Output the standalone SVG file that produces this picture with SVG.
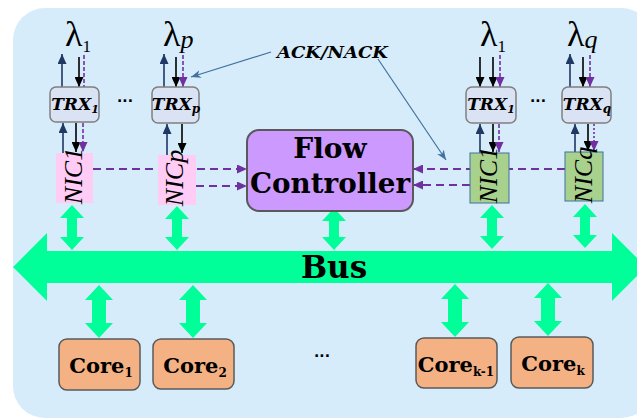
<svg xmlns="http://www.w3.org/2000/svg" width="637" height="419" viewBox="0 0 637 419">
<defs>
<style>
.bg{fill:#d6ecfb}
.trx rect{fill:#dae3f3;stroke:#7f7f7f;stroke-width:1.5}
.trx text{font-family:"DejaVu Serif",serif;font-weight:bold;font-style:italic;font-size:17px;text-anchor:middle}
.nicp rect{fill:#ffccf6}
.nicg rect{fill:#a9d18e;stroke:#41719c;stroke-width:1}
.nic text{font-family:"Liberation Serif",serif;font-style:italic;font-size:26px;text-anchor:middle}
.core rect{fill:#f4b183;stroke:#595959;stroke-width:1.5}
.core text{font-family:"DejaVu Serif",serif;font-weight:bold;font-size:21px;text-anchor:middle}
.lam{font-family:"Liberation Serif",serif;font-size:36px}
.dots{font-family:"DejaVu Sans",sans-serif;font-weight:bold;font-size:14px;text-anchor:middle}
.g{fill:#00ff99}
.k{stroke:#000;stroke-width:1.6;fill:none;marker-end:url(#mk)}
.n{stroke:#1f3864;stroke-width:1.6;fill:none;marker-end:url(#mn)}
.pv{stroke:#7030a0;stroke-width:1.6;fill:none;stroke-dasharray:4 2}
.ph{stroke:#7030a0;stroke-width:2;fill:none;stroke-dasharray:8 5}
.pa{marker-end:url(#mp)}
.bl{stroke:#41719c;stroke-width:1.2;fill:none;marker-end:url(#mb)}
</style>
<marker id="mk" markerUnits="userSpaceOnUse" markerWidth="10" markerHeight="9" refX="10" refY="4.5" orient="auto"><path d="M0,0 L10,4.5 L0,9 z" fill="#000"/></marker>
<marker id="mn" markerUnits="userSpaceOnUse" markerWidth="10" markerHeight="9" refX="10" refY="4.5" orient="auto"><path d="M0,0 L10,4.5 L0,9 z" fill="#1f3864"/></marker>
<marker id="mp" markerUnits="userSpaceOnUse" markerWidth="10" markerHeight="9" refX="10" refY="4.5" orient="auto"><path d="M0,0 L10,4.5 L0,9 z" fill="#7030a0"/></marker>
<marker id="mb" markerUnits="userSpaceOnUse" markerWidth="10" markerHeight="8" refX="10" refY="4" orient="auto"><path d="M0,0 L10,4 L0,8 L3,4 z" fill="#41719c"/></marker>
</defs>

<rect class="bg" x="13" y="8" width="640" height="410" rx="32"/>

<g id="bus">
<path class="g" d="M13,267 L47,233 L47,251 L612,251 L612,233 L646,267 L612,301 L612,283 L47,283 L47,301 Z"/>
<text x="334" y="278" font-family="DejaVu Serif, serif" font-weight="bold" font-size="31" text-anchor="middle">Bus</text>
</g>

<g id="connectors">
<!-- bus links -->
<path class="g" d="M72,205 L84,218 L77,218 L77,237 L84,237 L72,250 L60,237 L67,237 L67,218 L60,218 Z"/>
<path class="g" d="M177,206 L189,219 L182,219 L182,237 L189,237 L177,250 L165,237 L172,237 L172,219 L165,219 Z"/>
<path class="g" d="M334,208 L346,221 L339,221 L339,237 L346,237 L334,250 L322,237 L329,237 L329,221 L322,221 Z"/>
<path class="g" d="M492,205 L504,218 L497,218 L497,236 L504,236 L492,249 L480,236 L487,236 L487,218 L480,218 Z"/>
<path class="g" d="M585,204 L597,217 L590,217 L590,235 L597,235 L585,248 L573,235 L580,235 L580,217 L573,217 Z"/>
<path class="g" d="M99,285 L113,300 L106,300 L106,323 L113,323 L99,338 L85,323 L92,323 L92,300 L85,300 Z"/>
<path class="g" d="M193,285 L207,300 L200,300 L200,323 L207,323 L193,338 L179,323 L186,323 L186,300 L179,300 Z"/>
<path class="g" d="M455,284 L469,299 L462,299 L462,322 L469,322 L455,337 L441,322 L448,322 L448,299 L441,299 Z"/>
<path class="g" d="M548,283 L562,298 L555,298 L555,321 L562,321 L548,336 L534,321 L541,321 L541,298 L534,298 Z"/>

<!-- TRX1 left -->
<line class="n" x1="62" y1="87" x2="62" y2="54"/>
<line class="k" x1="79" y1="57" x2="79" y2="87"/>
<line class="pv" x1="84" y1="55" x2="84" y2="87"/>
<line class="n" x1="63" y1="153" x2="63" y2="123"/>
<line class="k" x1="76" y1="123" x2="76" y2="152"/>
<line class="pv pa" x1="83" y1="123" x2="83" y2="152"/>
<!-- TRXp -->
<line class="n" x1="164" y1="87" x2="164" y2="54"/>
<line class="k" x1="176" y1="57" x2="176" y2="87"/>
<line class="pv pa" x1="183" y1="55" x2="183" y2="87"/>
<line class="n" x1="167" y1="155" x2="167" y2="124"/>
<line class="k" x1="182" y1="124" x2="182" y2="153"/>
<!-- TRX1 right -->
<line class="k" x1="480" y1="57" x2="480" y2="87"/>
<line class="k" x1="493" y1="57" x2="493" y2="87"/>
<line class="pv pa" x1="500" y1="55" x2="500" y2="87"/>
<line class="n" x1="480" y1="153" x2="480" y2="124"/>
<line class="k" x1="493" y1="124" x2="493" y2="152"/>
<line class="pv pa" x1="499" y1="124" x2="499" y2="152"/>
<!-- TRXq -->
<line class="n" x1="570" y1="87" x2="570" y2="54"/>
<line class="k" x1="583" y1="57" x2="583" y2="87"/>
<line class="pv pa" x1="590" y1="55" x2="590" y2="87"/>
<line class="n" x1="575" y1="152" x2="575" y2="124"/>
<line class="k" x1="588" y1="124" x2="588" y2="151"/>
<line class="pv pa" x1="594" y1="124" x2="594" y2="151" style="stroke-dasharray:2 2"/>

<!-- NIC to flow controller -->
<line class="ph pa" x1="93" y1="169" x2="247" y2="169"/>
<line class="ph pa" x1="196" y1="186" x2="247" y2="186"/>
<line class="ph pa" x1="565" y1="169" x2="413" y2="169"/>
<line class="ph pa" x1="470" y1="185" x2="413" y2="185"/>

<!-- ACK/NACK pointers -->
<line class="bl" x1="271" y1="52" x2="191" y2="77"/>
<line class="bl" x1="378" y1="59" x2="446" y2="160"/>
</g>

<g id="flow-controller">
<rect x="247" y="130" width="166" height="81" rx="12" fill="#cc99ff" stroke="#595959" stroke-width="2"/>
<text x="330" y="158" font-family="DejaVu Serif, serif" font-weight="bold" font-size="28" text-anchor="middle">Flow</text>
<text x="330" y="193" font-family="DejaVu Serif, serif" font-weight="bold" font-size="28" text-anchor="middle" textLength="160" lengthAdjust="spacingAndGlyphs">Controller</text>
</g>

<g id="ack-label">
<text x="277" y="58" font-family="DejaVu Serif, serif" font-weight="bold" font-style="italic" font-size="16" textLength="111" lengthAdjust="spacingAndGlyphs">ACK/NACK</text>
</g>

<g id="lambda-1-left"><text class="lam" x="65" y="46">λ<tspan font-size="17" dy="6">1</tspan></text></g>
<g id="lambda-p"><text class="lam" x="163" y="46">λ<tspan font-size="26" font-style="italic" dy="2">p</tspan></text></g>
<g id="lambda-1-right"><text class="lam" x="480" y="46">λ<tspan font-size="17" dy="6">1</tspan></text></g>
<g id="lambda-q"><text class="lam" x="567" y="46">λ<tspan font-size="26" font-style="italic" dy="2">q</tspan></text></g>

<g id="trx-1-left" class="trx"><rect x="50" y="87" width="49" height="35" rx="6"/><text x="75" y="110">TRX<tspan font-size="11" dy="3">1</tspan></text></g>
<g id="trx-p" class="trx"><rect x="152" y="87" width="47" height="36" rx="6"/><text x="176" y="110">TRX<tspan font-size="12" dy="3">p</tspan></text></g>
<g id="trx-1-right" class="trx"><rect x="466" y="87" width="50" height="36" rx="6"/><text x="491" y="110">TRX<tspan font-size="11" dy="3">1</tspan></text></g>
<g id="trx-q" class="trx"><rect x="562" y="87" width="49" height="36" rx="6"/><text x="587" y="110">TRX<tspan font-size="12" dy="3">q</tspan></text></g>

<g id="dots-left"><text class="dots" x="125" y="102">...</text></g>
<g id="dots-right"><text class="dots" x="538" y="102">...</text></g>

<g id="nic-1-left" class="nic nicp"><rect x="56" y="153" width="37" height="50"/><text transform="translate(82,176) rotate(-90)">NIC1</text></g>
<g id="nic-p" class="nic nicp"><rect x="158" y="155" width="38" height="50"/><text transform="translate(183,178) rotate(-90)">NICp</text></g>
<g id="nic-1-right" class="nic nicg"><rect x="470" y="153" width="39" height="50"/><text transform="translate(497,175) rotate(-90)">NIC1</text></g>
<g id="nic-q" class="nic nicg"><rect x="565" y="152" width="38" height="49"/><text transform="translate(592,175) rotate(-90)">NICq</text></g>

<g id="core-1" class="core"><rect x="59" y="339" width="81" height="51" rx="8"/><text x="101" y="373">Core<tspan font-size="12" dy="4">1</tspan></text></g>
<g id="core-2" class="core"><rect x="153" y="339" width="81" height="50" rx="8"/><text x="195" y="373">Core<tspan font-size="12" dy="4">2</tspan></text></g>
<g id="core-k-1" class="core"><rect x="416" y="338" width="81" height="50" rx="8"/><text x="456" y="372">Core<tspan font-size="12" dy="4">k-1</tspan></text></g>
<g id="core-k" class="core"><rect x="511" y="337" width="82" height="51" rx="8"/><text x="553" y="371">Core<tspan font-size="12" dy="4">k</tspan></text></g>

<g id="dots-cores"><text class="dots" x="322" y="357">...</text></g>
</svg>
